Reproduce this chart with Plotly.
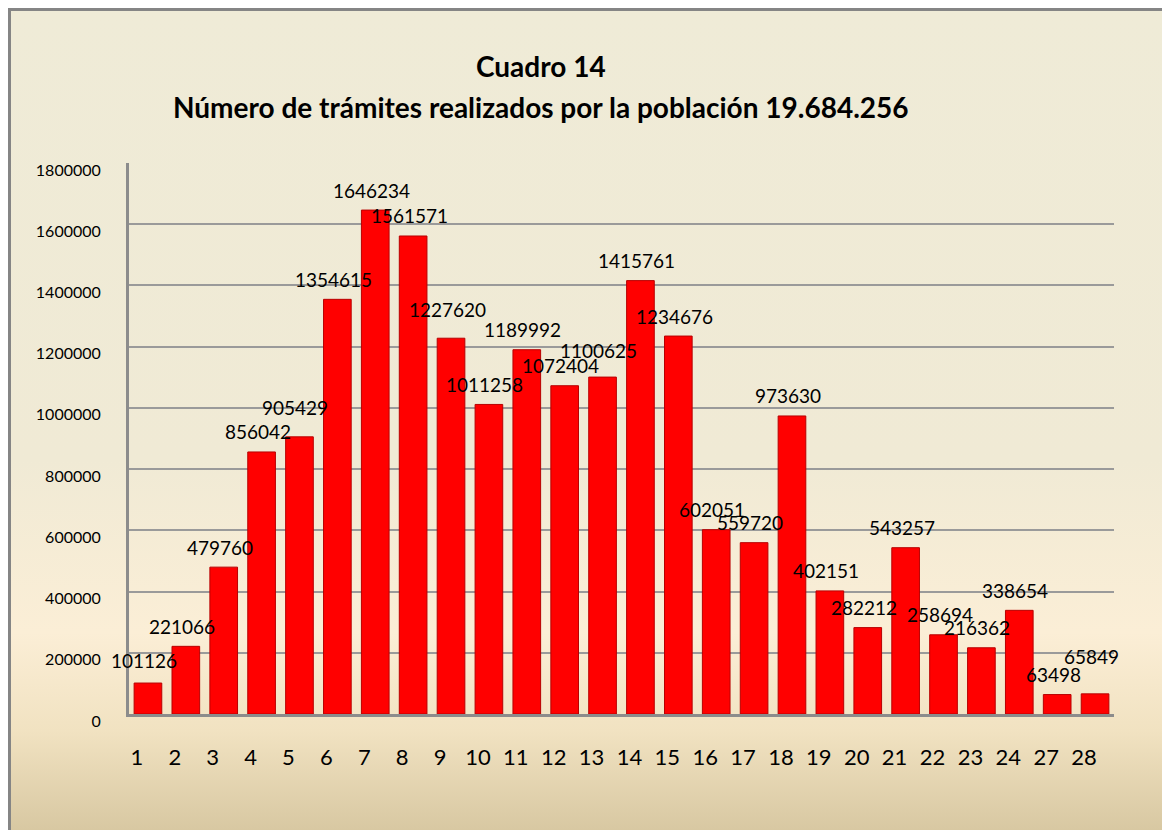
import base64
import plotly.graph_objects as go

categories = ["1", "2", "3", "4", "5", "6", "7", "8", "9", "10", "11", "12", "13",
              "14", "15", "16", "17", "18", "19", "20", "21", "22", "23", "24", "27", "28"]
values = [101126, 221066, 479760, 856042, 905429, 1354615, 1646234, 1561571, 1227620,
          1011258, 1189992, 1072404, 1100625, 1415761, 1234676, 602051, 559720, 973630,
          402151, 282212, 543257, 258694, 216362, 338654, 63498, 65849]
y_ticks = [0, 200000, 400000, 600000, 800000, 1000000, 1200000, 1400000, 1600000, 1800000]

title_line1 = "Cuadro 14"
title_line2 = "Número de trámites realizados por la población 19.684.256"

# extra lift (px) that the original applies to a few value labels to avoid collisions
label_lift = [3, 0, 0, 0, 9, 0, 0, 0, 9, 0, 0, 0, 7, 0, 0, 0, 0, 0, 0, 0, 0, 0, 0, 0, 0, 17]

OFF = 8                   # page body margin
W, H = 1170 - OFF, 830 - OFF
L, R = 129 - OFF, 1114 - OFF
T, B = 163 - OFF, 714 - OFF
pw, ph = R - L, B - T

def px_x(p):
    return (p - L) / pw

def px_y(p):
    return (B - p) / ph

svg = """<svg xmlns='http://www.w3.org/2000/svg' width='100' height='100' preserveAspectRatio='none'>
<defs><linearGradient id='g' x1='0' y1='0' x2='0' y2='1'>
<stop offset='0' stop-color='#EFEBD7'/>
<stop offset='0.55' stop-color='#F0EAD5'/>
<stop offset='0.76' stop-color='#FBEED6'/>
<stop offset='0.88' stop-color='#F1E2C1'/>
<stop offset='1' stop-color='#D8C8A2'/>
</linearGradient></defs>
<rect width='100' height='100' fill='url(#g)'/></svg>"""
bg_src = "data:image/svg+xml;base64," + base64.b64encode(svg.encode()).decode()

fig = go.Figure()
fig.add_trace(go.Bar(
    x=categories, y=values,
    marker=dict(color="#FF0000", line=dict(color="#B80000", width=1)),
    hoverinfo="x+y",
))

# value labels drawn on top of all bars (category axis positions are indices)
label_annotations = [
    dict(x=i, y=v, xref="x", yref="y", text=str(v), showarrow=False,
         xshift=-4, yshift=20 + lift, xanchor="center", yanchor="middle",
         font=dict(family="Lato", size=19, color="#000000"))
    for i, (v, lift) in enumerate(zip(values, label_lift))
]

fig.update_layout(
    width=W, height=H,
    margin=dict(l=L, r=W - R, t=T, b=H - B, autoexpand=False),
    paper_bgcolor="#FFFFFF", plot_bgcolor="rgba(0,0,0,0)",
    bargap=0.27, showlegend=False,
    font=dict(family="Lato", color="#000000"),
    images=[dict(source=bg_src, xref="paper", yref="paper",
                 x=px_x(0), y=px_y(0), sizex=W / pw, sizey=H / ph,
                 xanchor="left", yanchor="top", sizing="stretch", layer="below")],
    shapes=[dict(type="rect", xref="paper", yref="paper",
                 x0=px_x(1.5), x1=px_x(W + 20), y0=px_y(H + 20), y1=px_y(1.5),
                 line=dict(color="#858585", width=3), fillcolor="rgba(0,0,0,0)", layer="above")],
    annotations=[
        dict(text="<b>" + title_line1 + "</b>", xref="paper", yref="paper",
             x=px_x(541 - OFF), y=px_y(66 - OFF), xanchor="center", yanchor="middle",
             showarrow=False, font=dict(family="Lato", size=28, color="#000000")),
        dict(text="<b>" + title_line2 + "</b>", xref="paper", yref="paper",
             x=px_x(541 - OFF), y=px_y(107 - OFF), xanchor="center", yanchor="middle",
             showarrow=False, font=dict(family="Lato", size=28, color="#000000")),
    ] + label_annotations,
)

fig.update_xaxes(
    type="category", range=[-0.5, len(categories) - 0.5],
    showline=True, linecolor="#8C8C8C", linewidth=3,
    ticks="", showgrid=False, tickfont=dict(family="Lato", size=22, color="#000000"),
    ticklabelstandoff=22, ticklabelshift=-11,
)
fig.update_yaxes(
    range=[0, 1800000], tickvals=y_ticks, ticktext=[str(v) for v in y_ticks],
    showline=True, linecolor="#8C8C8C", linewidth=3,
    showgrid=True, gridcolor="#9A9A9A", gridwidth=2, zeroline=False,
    ticks="", tickfont=dict(family="Lato", size=16, color="#000000"),
    ticklabelstandoff=22, ticklabelshift=7,
)

fig.write_html("out.html")
